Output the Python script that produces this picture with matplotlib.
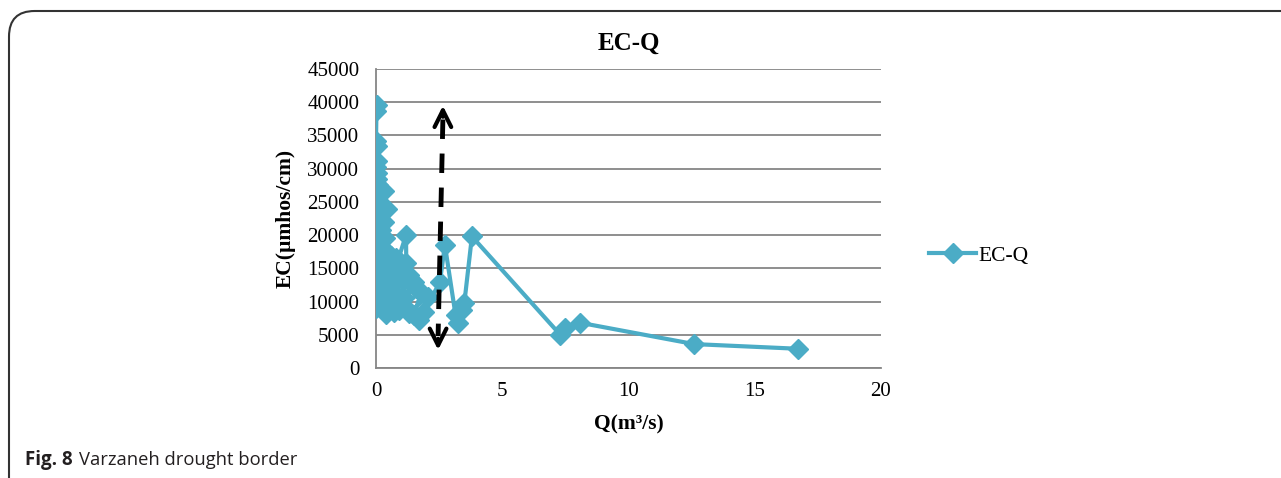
import numpy as np
import matplotlib.pyplot as plt
from matplotlib.patches import FancyBboxPatch

# discharge Q (m3/s) and EC (umhos/cm), in series order
q = [0.05, 0.02, 0.0, 0.03, 0.05, 0.02, 0.06, 0.03, 0.1, 0.3,
     0.05, 0.1, 0.45, 0.15, 0.05, 0.3, 0.02, 0.2, 0.08, 0.35,
     0.05, 0.15, 0.4, 0.05, 0.6, 0.25, 0.8, 0.02, 0.5, 1.0,
     0.1, 0.7, 1.19, 1.2, 0.9, 0.3, 1.3, 0.6, 0.02, 0.45,
     1.5, 0.8, 0.05, 1.1, 0.3, 1.6, 0.6, 0.02, 0.9, 0.4,
     1.2, 0.7, 1.8, 1.5, 1.0, 1.7, 1.3, 2.05, 1.9, 2.53,
     2.73, 3.15, 3.25, 3.4, 3.5, 3.8, 7.3, 7.5, 8.1, 12.6, 16.7]
ec = [39600, 38700, 34100, 33400, 31200, 30200, 29300, 28500, 27600, 26700,
      25300, 24500, 24000, 23000, 22300, 22000, 21200, 20800, 20100, 19500,
      19000, 18200, 17600, 17000, 16800, 16200, 16500, 15500, 15000, 15800,
      14500, 14200, 20000, 15800, 13500, 13000, 14000, 12500, 12000, 11500,
      13000, 11000, 11200, 10500, 10000, 12000, 9500, 9000, 8800, 8200,
      9000, 8500, 11500, 8000, 9500, 7200, 8300, 10700, 8500, 12900,
      18500, 8000, 6700, 8800, 9800, 19800, 5000, 6000, 6800, 3600, 2900]

yticks = np.arange(0, 45001, 5000)
xticks = [0, 5, 10, 15, 20]

# drought border arrow ends (Q, EC)
arrow_top = (2.65, 39900)
arrow_bot = (2.46, 2300)

plt.rcParams['font.family'] = 'Liberation Serif'
col = '#4BACC6'

fig = plt.figure(figsize=(12.81, 4.78), dpi=100)
ax = fig.add_axes([0.2935, 0.2301, 0.3942, 0.6255])

ax.plot(q, ec, color=col, lw=3, marker='D', ms=10, mec=col, mfc=col,
        label='EC-Q', zorder=3)

ax.set_xlim(0, 20)
ax.set_ylim(0, 45000)
ax.set_xticks(xticks)
ax.set_yticks(yticks)
ax.tick_params(length=0, labelsize=15)
ax.tick_params(axis='y', pad=12)
ax.tick_params(axis='x', pad=10)
ax.grid(axis='y', color='#868686', lw=1.3)
ax.set_axisbelow(True)
for s in ['top', 'right']:
    ax.spines[s].set_visible(False)
ax.spines['left'].set_color('#868686')
ax.spines['bottom'].set_color('#868686')
ax.spines['left'].set_linewidth(1.3)
ax.spines['bottom'].set_linewidth(1.3)

ax.set_title('EC-Q', fontsize=18, fontweight='bold', pad=14)
ax.set_xlabel('Q(m\u00b3/s)', fontsize=15.5, fontweight='bold', labelpad=10)
ax.set_ylabel('EC(\u00b5mhos/cm)', fontsize=15.5, fontweight='bold', labelpad=8)

# dashed double arrow
ax.plot([arrow_top[0], arrow_bot[0]], [arrow_top[1] - 2500, arrow_bot[1] + 2500],
        color='black', lw=3.5, ls=(0, (4, 3)), zorder=4)
ax.annotate('', xy=arrow_top, xytext=(arrow_top[0], arrow_top[1] - 2500),
            arrowprops=dict(arrowstyle='->', lw=3, color='black', mutation_scale=30), zorder=4)
ax.annotate('', xy=arrow_bot, xytext=(arrow_bot[0], arrow_bot[1] + 2500),
            arrowprops=dict(arrowstyle='->', lw=3, color='black', mutation_scale=30), zorder=4)

fig.legend(loc='center left', bbox_to_anchor=(0.71, 0.465), frameon=False,
           fontsize=15.5, handlelength=2.2, handletextpad=0.1)

# frame and caption
box = FancyBboxPatch((9 / 1281, -0.2), 1.2, 1.2 - 11 / 478,
                     boxstyle='round,pad=0,rounding_size=0.02',
                     transform=fig.transFigure, fill=False,
                     ec='#333333', lw=1.5, mutation_aspect=2.68)
fig.patches.append(box)
fig.text(25 / 1281, 1 - 465 / 478, 'Fig. 8', fontsize=13.5, fontweight='bold',
         family='Open Sans', color='#231f20', va='baseline')
fig.text(79 / 1281, 1 - 465 / 478, 'Varzaneh drought border', fontsize=13.2,
         family='Open Sans', color='#231f20', va='baseline')

fig.savefig('out.png', dpi=100)
